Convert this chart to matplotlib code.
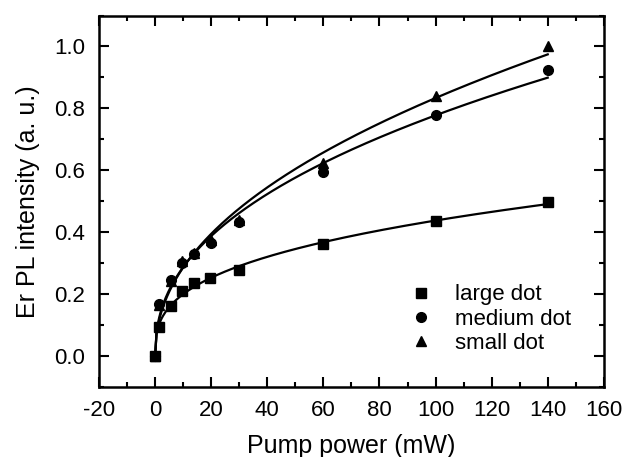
import numpy as np
import matplotlib.pyplot as plt
from matplotlib.ticker import MultipleLocator

plt.rcParams['font.family'] = ['Liberation Sans', 'DejaVu Sans']
plt.rcParams['axes.unicode_minus'] = False

# pump power (mW) and normalised Er PL intensity
power_large = [0, 1.5, 5.5, 9.6, 14, 19.6, 29.8, 60, 100, 140]
pl_large = [0.0, 0.095, 0.163, 0.21, 0.236, 0.251, 0.279, 0.362, 0.435, 0.497]

power_medium = [0, 1.5, 5.5, 9.6, 14, 19.8, 29.9, 60, 100, 140]
pl_medium = [0.0, 0.167, 0.245, 0.30, 0.331, 0.366, 0.432, 0.595, 0.78, 0.925]

power_small = [0, 1.5, 5.7, 9.6, 14, 19.8, 29.9, 60, 100, 140]
pl_small = [0.0, 0.165, 0.242, 0.306, 0.333, 0.375, 0.44, 0.625, 0.839, 1.0]

labels = ['large dot', 'medium dot', 'small dot']
markers = ['s', 'o', '^']


def power_fit(x, y):
    # least squares fit of y = a * x^b, scanning the exponent
    x = np.array(x, dtype=float)
    y = np.array(y, dtype=float)
    best = None
    for b in np.linspace(0.1, 1.0, 901):
        xb = x ** b
        a = np.sum(y * xb) / np.sum(xb * xb)
        err = np.sum((y - a * xb) ** 2)
        if best is None or err < best[0]:
            best = (err, a, b)
    xs = np.linspace(0, 140, 300)
    return xs, best[1] * xs ** best[2]


fig = plt.figure(figsize=(6.27, 4.57), dpi=100)
ax = fig.add_axes([0.158, 0.153, 0.805, 0.813])

series = [(power_large, pl_large), (power_medium, pl_medium), (power_small, pl_small)]
for (x, y), lab, m in zip(series, labels, markers):
    ax.plot(x, y, linestyle='none', marker=m, color='black', markersize=7, label=lab)
    xs, ys = power_fit(x, y)
    ax.plot(xs, ys, color='black', linewidth=1.6)

ax.set_xlim(-20, 160)
ax.set_ylim(-0.1, 1.1)
ax.xaxis.set_major_locator(MultipleLocator(20))
ax.xaxis.set_minor_locator(MultipleLocator(10))
ax.yaxis.set_major_locator(MultipleLocator(0.2))
ax.yaxis.set_minor_locator(MultipleLocator(0.1))
ax.yaxis.set_major_formatter(plt.FormatStrFormatter('%.1f'))
ax.tick_params(which='both', direction='in', top=True, right=True, width=1.5)
ax.tick_params(which='major', length=7, labelsize=16)
ax.tick_params(axis='x', which='major', pad=9)
ax.tick_params(axis='y', which='major', pad=10)
ax.tick_params(which='minor', length=3.5)
for s in ax.spines.values():
    s.set_linewidth(1.8)

ax.set_xlabel('Pump power (mW)', fontsize=18, labelpad=10)
ax.set_ylabel('Er PL intensity (a. u.)', fontsize=18, labelpad=10)

ax.legend(loc='lower right', bbox_to_anchor=(0.975, 0.035), frameon=False,
          fontsize=16, handletextpad=0.8, labelspacing=0.15, handlelength=1.5)

plt.savefig('out.png', dpi=100)
